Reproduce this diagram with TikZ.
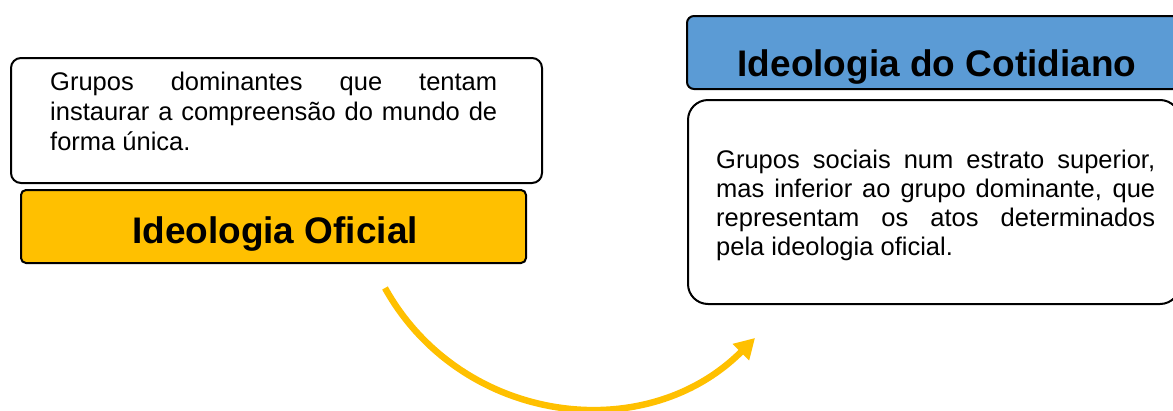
\documentclass[tikz,border=0pt]{standalone}
\usepackage{fontspec}
\setmainfont{Liberation Sans}
\usetikzlibrary{arrows.meta}
\definecolor{gold}{HTML}{FFC000}
\definecolor{skyblue}{HTML}{5B9BD5}
\tikzset{
  boxline/.style={draw=black, line width=2pt},
  bodytext/.style={inner sep=0pt, align=justify, font=\fontsize{25.5}{30}\selectfont},
  titletext/.style={inner sep=0pt, font=\bfseries\fontsize{37}{42}\selectfont},
  flow/.style={draw=gold, line width=6.5pt, -{Triangle[length=20pt,width=22pt]}}
}
\begin{document}
\begin{tikzpicture}[x=1pt,y=-1pt]
\useasboundingbox (0,0) rectangle (1173,410);
% left group
\draw[boxline, fill=white, rounded corners=10pt] (11,58) rectangle (542,183);
\node[bodytext, anchor=north west, text width=447pt] (lefttext) at (50,71.5) {\hyphenpenalty=10000\relax Grupos dominantes que tentam\linebreak instaurar a compreensão do mundo de\linebreak forma única.};
\draw[boxline, fill=gold, rounded corners=5pt] (21,190) rectangle (526,263);
\node[titletext, anchor=base] (oficial) at (275,243) {Ideologia Oficial};
% right group
\draw[boxline, fill=skyblue, rounded corners=7pt] (687,16) rectangle (1180,89);
\node[titletext, anchor=base] (cotidiano) at (937,76) {Ideologia do Cotidiano};
\draw[boxline, fill=white, rounded corners=20pt] (688,100) rectangle (1180,304);
\node[bodytext, font=\fontsize{25.5}{29}\selectfont, anchor=north west, text width=439pt] (righttext) at (716,150) {\hyphenpenalty=10000\relax Grupos sociais num estrato superior,\linebreak mas inferior ao grupo dominante, que\linebreak representam os atos determinados\linebreak pela ideologia oficial.};
% arrow
\coordinate (arrowstart) at (385,288);
\coordinate (arrowend) at (755,338);
\draw[flow] (arrowstart) .. controls (460,423) and (644,449) .. (arrowend);
\end{tikzpicture}
\end{document}
